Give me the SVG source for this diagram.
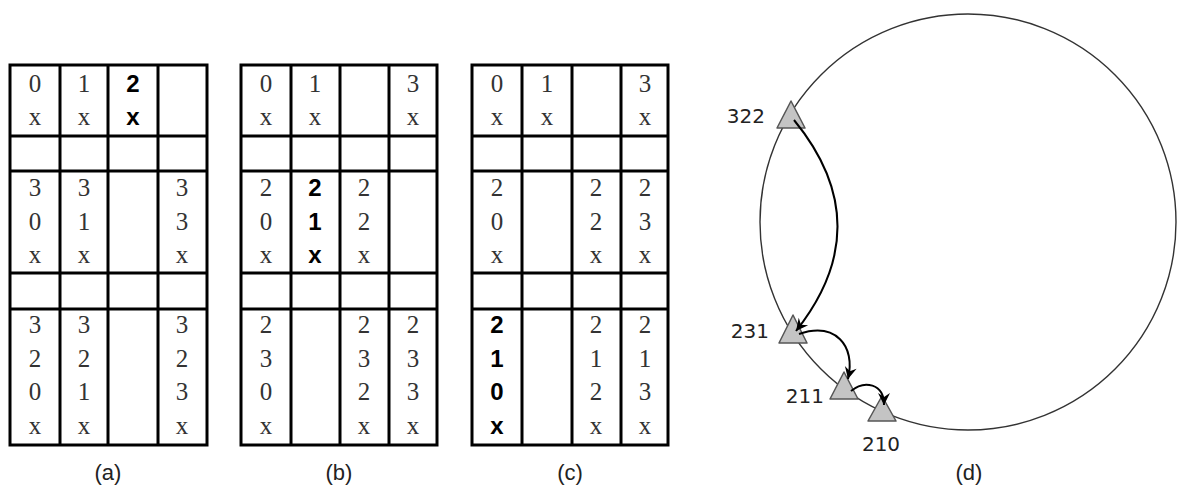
<svg xmlns="http://www.w3.org/2000/svg" width="1178" height="492" viewBox="0 0 1178 492">
<style>
.grid{fill:none;stroke:#000;stroke-width:3}
.t{font-family:"Liberation Serif","Times New Roman",serif;font-size:25px;fill:#333;text-anchor:middle}
.b{font-family:"Liberation Sans",Arial,sans-serif;font-size:24px;font-weight:bold;fill:#000;text-anchor:middle}
.lab{font-family:"Liberation Sans",Arial,sans-serif;font-size:22px;fill:#222;text-anchor:middle}
.num{font-family:"DejaVu Sans",sans-serif;font-size:20px;fill:#222}
.tri{fill:#c4c4c4;stroke:#555;stroke-width:1.5;stroke-linejoin:round}
.arr{fill:none;stroke:#000;stroke-width:2;marker-end:url(#ah)}
</style>
<defs>
<marker id="ah" markerUnits="userSpaceOnUse" markerWidth="16" markerHeight="14" viewBox="-13 -7 15 14" refX="0" refY="0" orient="auto">
<path d="M0,0 L-12,-6 L-8,0 L-12,6 Z" fill="#000"/>
</marker>
</defs>

<g id="table-a">
<rect class="grid" x="10" y="65" width="197" height="380"/>
<path class="grid" d="M60,65V445M108,65V445M158,65V445M10,136H207M10,171H207M10,273H207M10,309H207"/>
<text class="t" x="35" y="92">0</text><text class="t" x="35" y="125">x</text>
<text class="t" x="84" y="92">1</text><text class="t" x="84" y="125">x</text>
<text class="b" x="133" y="92">2</text><text class="b" x="133" y="125">x</text>
<text class="t" x="35" y="196">3</text><text class="t" x="35" y="230">0</text><text class="t" x="35" y="263">x</text>
<text class="t" x="84" y="196">3</text><text class="t" x="84" y="230">1</text><text class="t" x="84" y="263">x</text>
<text class="t" x="182" y="196">3</text><text class="t" x="182" y="230">3</text><text class="t" x="182" y="263">x</text>
<text class="t" x="35" y="333">3</text><text class="t" x="35" y="367">2</text><text class="t" x="35" y="400">0</text><text class="t" x="35" y="434">x</text>
<text class="t" x="84" y="333">3</text><text class="t" x="84" y="367">2</text><text class="t" x="84" y="400">1</text><text class="t" x="84" y="434">x</text>
<text class="t" x="182" y="333">3</text><text class="t" x="182" y="367">2</text><text class="t" x="182" y="400">3</text><text class="t" x="182" y="434">x</text>
<text class="lab" x="108" y="480">(a)</text>
</g>

<g id="table-b">
<rect class="grid" x="241" y="65" width="196" height="380"/>
<path class="grid" d="M291,65V445M340,65V445M389,65V445M241,136H437M241,171H437M241,273H437M241,309H437"/>
<text class="t" x="266" y="92">0</text><text class="t" x="266" y="125">x</text>
<text class="t" x="315" y="92">1</text><text class="t" x="315" y="125">x</text>
<text class="t" x="413" y="92">3</text><text class="t" x="413" y="125">x</text>
<text class="t" x="266" y="196">2</text><text class="t" x="266" y="230">0</text><text class="t" x="266" y="263">x</text>
<text class="b" x="315" y="196">2</text><text class="b" x="315" y="230">1</text><text class="b" x="315" y="263">x</text>
<text class="t" x="364" y="196">2</text><text class="t" x="364" y="230">2</text><text class="t" x="364" y="263">x</text>
<text class="t" x="266" y="333">2</text><text class="t" x="266" y="367">3</text><text class="t" x="266" y="400">0</text><text class="t" x="266" y="434">x</text>
<text class="t" x="364" y="333">2</text><text class="t" x="364" y="367">3</text><text class="t" x="364" y="400">2</text><text class="t" x="364" y="434">x</text>
<text class="t" x="413" y="333">2</text><text class="t" x="413" y="367">3</text><text class="t" x="413" y="400">3</text><text class="t" x="413" y="434">x</text>
<text class="lab" x="339" y="480">(b)</text>
</g>

<g id="table-c">
<rect class="grid" x="472" y="65" width="196" height="380"/>
<path class="grid" d="M522,65V445M572,65V445M621,65V445M472,136H668M472,171H668M472,273H668M472,309H668"/>
<text class="t" x="497" y="92">0</text><text class="t" x="497" y="125">x</text>
<text class="t" x="547" y="92">1</text><text class="t" x="547" y="125">x</text>
<text class="t" x="645" y="92">3</text><text class="t" x="645" y="125">x</text>
<text class="t" x="497" y="196">2</text><text class="t" x="497" y="230">0</text><text class="t" x="497" y="263">x</text>
<text class="t" x="596" y="196">2</text><text class="t" x="596" y="230">2</text><text class="t" x="596" y="263">x</text>
<text class="t" x="645" y="196">2</text><text class="t" x="645" y="230">3</text><text class="t" x="645" y="263">x</text>
<text class="b" x="497" y="333">2</text><text class="b" x="497" y="367">1</text><text class="b" x="497" y="400">0</text><text class="b" x="497" y="434">x</text>
<text class="t" x="596" y="333">2</text><text class="t" x="596" y="367">1</text><text class="t" x="596" y="400">2</text><text class="t" x="596" y="434">x</text>
<text class="t" x="645" y="333">2</text><text class="t" x="645" y="367">1</text><text class="t" x="645" y="400">3</text><text class="t" x="645" y="434">x</text>
<text class="lab" x="570" y="480">(c)</text>
</g>

<g id="ring">
<circle cx="968" cy="222" r="208" fill="none" stroke="#333" stroke-width="1.4"/>
</g>

<g id="node-322">
<polygon class="tri" points="791,101 805,128 777,128"/>
<text class="num" x="765" y="123" text-anchor="end">322</text>
</g>
<g id="node-231">
<polygon class="tri" points="793,315 807,343 779,343"/>
<text class="num" x="769" y="338" text-anchor="end">231</text>
</g>
<g id="node-211">
<polygon class="tri" points="844,372 858,399 830,399"/>
<text class="num" x="824" y="403" text-anchor="end">211</text>
</g>
<g id="node-210">
<polygon class="tri" points="882,396 896,421 868,421"/>
<text class="num" x="881" y="451" text-anchor="middle">210</text>
</g>

<g id="connectors">
<path class="arr" d="M794,120 Q880,225 796,331"/>
<path class="arr" d="M799,334 C835,322 856,345 848,379"/>
<path class="arr" d="M851,391 C864,380 884,383 884,405"/>
</g>

<g id="label-d">
<text class="lab" x="969" y="480">(d)</text>
</g>
</svg>
